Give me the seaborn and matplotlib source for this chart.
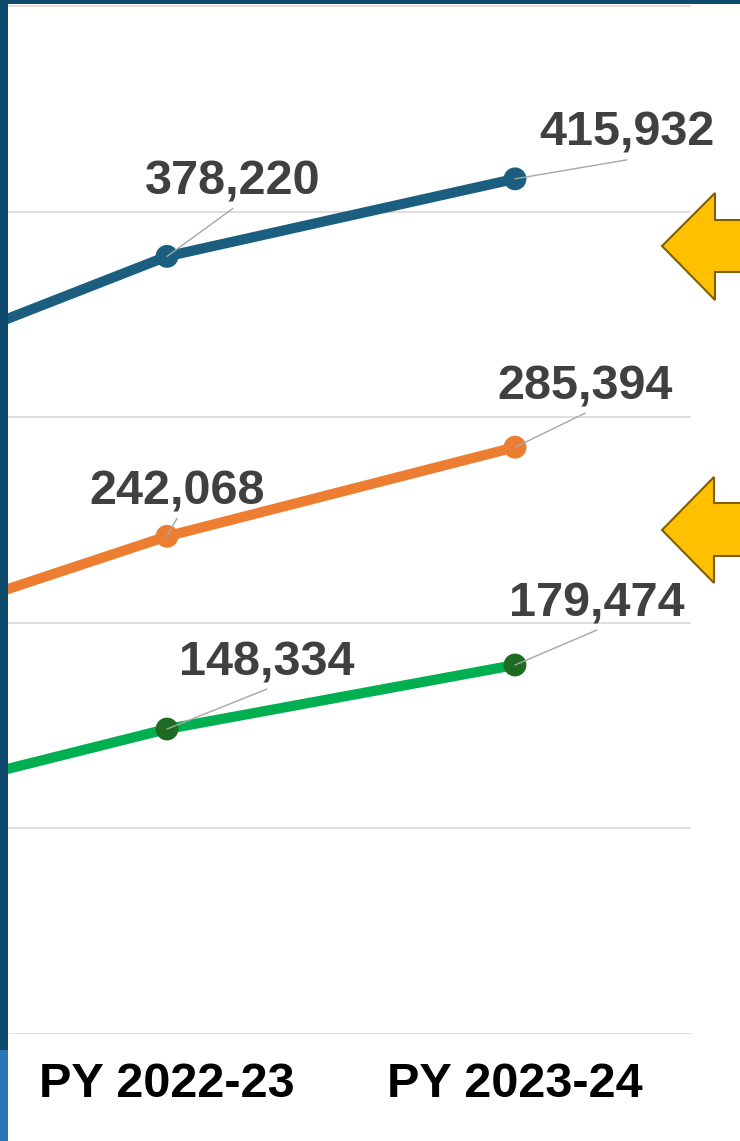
import numpy as np
import pandas as pd
import matplotlib
matplotlib.use("Agg")
import matplotlib.pyplot as plt
import seaborn as sns
from matplotlib.patches import Polygon, Rectangle

# ---------------- data ----------------
years = ["PY 2021-22", "PY 2022-23", "PY 2023-24"]
series_names = ["Series 1", "Series 2", "Series 3"]
series1_values = [312000, 378220, 415932]
series2_values = [186000, 242068, 285394]
series3_values = [106000, 148334, 179474]
y_ticks = [0, 100000, 200000, 300000, 400000, 500000]

# ---------------- styles ----------------
line_colors = {"Series 1": "#1B5E80", "Series 2": "#ED7D31", "Series 3": "#00B050"}
marker_colors = {"Series 1": "#1B5E80", "Series 2": "#ED7D31", "Series 3": "#1E6B24"}
# leader-line end offsets (pixels right, pixels up) for the labelled points (PY 2022-23, PY 2023-24)
label_offsets = {
    "Series 1": [(66, 48), (112, 19)],
    "Series 2": [(10, 18), (70, 34)],
    "Series 3": [(100, 40), (82, 35)],
}

sns.set_theme(style="white")
plt.rcParams['font.family'] = ['Liberation Sans', 'DejaVu Sans']

values = {"Series 1": series1_values, "Series 2": series2_values, "Series 3": series3_values}
rows = []
for s in series_names:
    for yr, v in zip(years, values[s]):
        rows.append({"series": s, "year": yr, "value": v})
df = pd.DataFrame(rows)

W, H = 740, 1141
fig = plt.figure(figsize=(W / 100, H / 100), dpi=100)
fig.patch.set_facecolor("white")

ax_left, ax_right, ax_bottom_px = 8, 691, 1034
ax = fig.add_axes([ax_left / W, 1 - ax_bottom_px / H, (ax_right - ax_left) / W, ax_bottom_px / H])

sns.lineplot(data=df, x="year", y="value", hue="series", palette=line_colors,
             linewidth=7.3, legend=False, ax=ax, sort=False)
sns.scatterplot(data=df, x="year", y="value", hue="series", palette=marker_colors,
                s=270, edgecolor="none", legend=False, ax=ax, zorder=4)

px_per_unit = 348.0
ax.set_xlim(1 + (ax_left - 167) / px_per_unit, 1 + (ax_right - 167) / px_per_unit)
ax.set_ylim(0, 100000 * ax_bottom_px / 205.6)
ax.set_yticks(y_ticks)
ax.set_yticklabels([])
ax.yaxis.grid(True, color="#D9D9D9", linewidth=1.2)
ax.xaxis.grid(False)
ax.set_xticks([1, 2])
ax.set_xticklabels(years[1:], fontsize=35, fontweight="bold", color="black")
ax.tick_params(axis="x", length=0, pad=20)
ax.tick_params(axis="y", length=0)
for sp in ax.spines.values():
    sp.set_visible(False)
ax.set_xlabel("")
ax.set_ylabel("")

pt = 0.72  # pixels -> points at 100 dpi
for s in series_names:
    for k, j in enumerate([1, 2]):
        v = values[s][j]
        dx, dy = label_offsets[s][k]
        ax.annotate("", xy=(j, v), xytext=(dx * pt, dy * pt), textcoords="offset points",
                    arrowprops=dict(arrowstyle="-", color="#A6A6A6", lw=1.0,
                                    shrinkA=0, shrinkB=0), zorder=5)
        ax.annotate(f"{v:,}", xy=(j, v), xytext=(dx * pt, (dy + 14) * pt),
                    textcoords="offset points", ha="center", va="baseline",
                    fontsize=35, fontweight="bold", color="#404040", zorder=6)

# ---------------- decorations (frame strips and arrows) ----------------
def fx(x):
    return x / W

def fy(y):
    return 1 - y / H

fig.patches.append(Rectangle((0, fy(1050)), fx(8), 1 - fy(1050), transform=fig.transFigure,
                             facecolor="#0E4A6B", edgecolor="none", zorder=10))
fig.patches.append(Rectangle((0, 0), fx(8), fy(1050), transform=fig.transFigure,
                             facecolor="#2E75B6", edgecolor="none", zorder=10))
fig.patches.append(Rectangle((0, fy(4)), 1, 1 - fy(4), transform=fig.transFigure,
                             facecolor="#0E4A6B", edgecolor="none", zorder=10))

arrow_shapes = [
    [(662, 246), (715, 193), (715, 220), (745, 220), (745, 272), (715, 272), (715, 300)],
    [(662, 530), (714, 477), (714, 503), (745, 503), (745, 556), (714, 556), (714, 583)],
]
for shp in arrow_shapes:
    fig.patches.append(Polygon([(fx(x), fy(y)) for x, y in shp], closed=True,
                               transform=fig.transFigure, facecolor="#FFC000",
                               edgecolor="#7F6000", linewidth=1.5, zorder=11))

fig.savefig("out.png", dpi=100)
